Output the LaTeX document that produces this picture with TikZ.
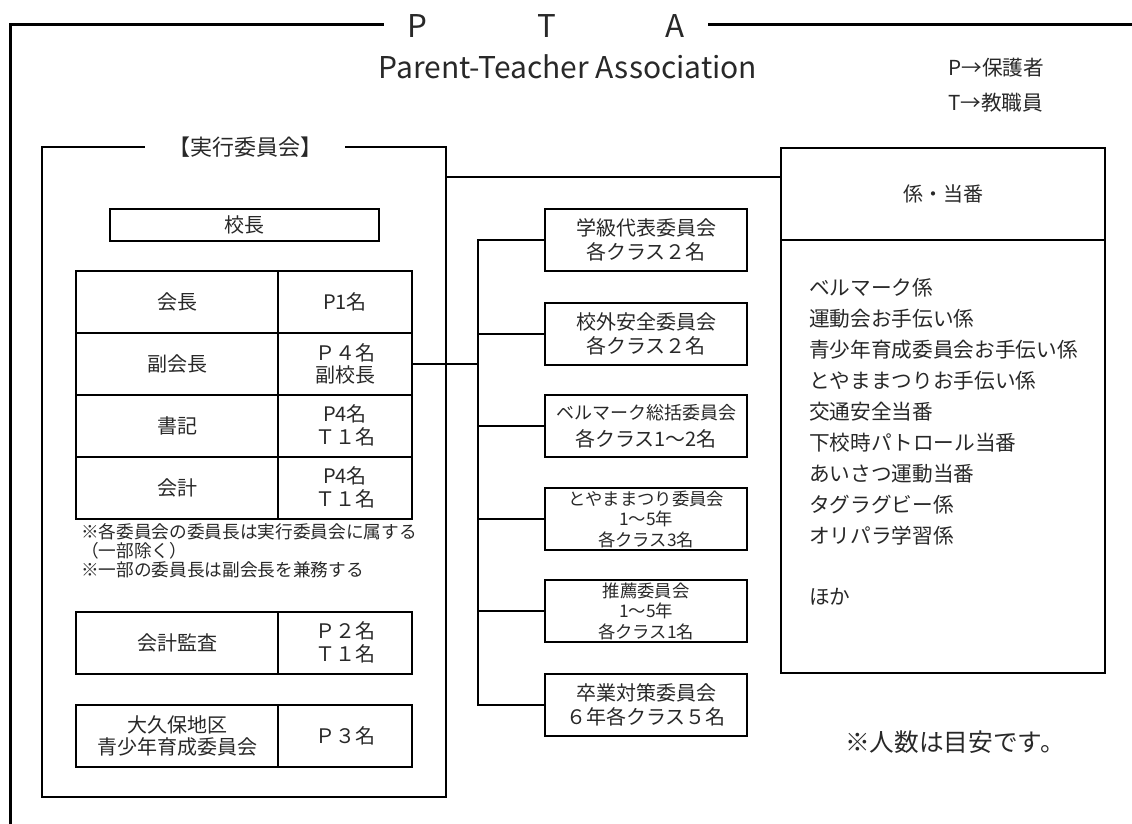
\documentclass[tikz,border=0pt]{standalone}
\usepackage{fontspec}
\setmainfont{Noto Sans CJK JP}

\begin{document}
\begin{tikzpicture}[x=0.75pt,y=-0.75pt,
  cell/.style={draw,line width=1.5pt,inner sep=0pt,align=center,text=ink,
    font=\fontsize{15}{17}\selectfont},
  iin/.style={cell,minimum width=202*\px,minimum height=62*\px,
    font=\fontsize{15}{18}\selectfont},
  small/.style={font=\fontsize{13}{15.4}\selectfont},
  txt/.style={text=ink,inner sep=0pt}]

\def\px{0.75pt}
\def\lw{1.5pt}
\definecolor{ink}{RGB}{40,40,40}

\useasboundingbox (0,0) rectangle (1132,824);

%% outer frame
\draw[line width=2.25pt] (1132,25) -- (10,25) -- (10,824);
\node[fill=white,inner xsep=18pt,inner ysep=3pt,text=ink,
  font=\fontsize{23.5}{23.5}\selectfont] (pta) at (546,26) {P\hspace{82pt}T\hspace{82pt}A};
\node[txt,font=\fontsize{22.5}{22.5}\selectfont] (pta-en) at (568,67) {Parent-Teacher Association};
\node[txt,anchor=west,font=\fontsize{15.5}{15.5}\selectfont] (hogosha) at (948,68) {P→保護者};
\node[txt,anchor=west,font=\fontsize{15.5}{15.5}\selectfont] (kyoshoku) at (948,103) {T→教職員};

%% executive committee
\node[draw,line width=\lw,minimum width=404*\px,minimum height=650*\px] (exec) at (244,472) {};
\node[fill=white,minimum width=200*\px,inner sep=2pt,text=ink,
  font=\fontsize{16.5}{16.5}\selectfont] (exec-title) at (245,147) {【実行委員会】};

\node[cell,minimum width=269*\px,minimum height=32*\px] (kocho) at (244.5,225) {校長};

\foreach \role/\num/\yc [count=\i] in {会長/P1名/302, 副会長/{Ｐ４名\\副校長}/364,
    書記/{P4名\\Ｔ１名}/425.5, 会計/{P4名\\Ｔ１名}/487.5,
    会計監査/{Ｐ２名\\Ｔ１名}/642.5, {大久保地区\\青少年育成委員会}/Ｐ３名/736}{
  \node[cell,minimum width=202*\px,minimum height=62*\px] (role\i) at (177,\yc) {\role};
  \node[cell,minimum width=134*\px,minimum height=62*\px] (num\i) at (345,\yc) {\num};
}

\node[txt,anchor=west,align=left,font=\fontsize{13.25}{14.25}\selectfont] (notes) at (81,551)
  {※各委員会の委員長は実行委員会に属する\\（一部除く）\\※一部の委員長は副会長を兼務する};

%% committees
\node[iin] (iin1) at (646,240) {学級代表委員会\\各クラス２名};
\node[iin] (iin2) at (646,333.5) {校外安全委員会\\各クラス２名};
\node[iin,font=\fontsize{15}{20}\selectfont] (iin3) at (646,426)
  {{\fontsize{13.5}{20}\selectfont ベルマーク総括委員会}\\各クラス1～2名};
\node[iin,small] (iin4) at (646,519) {とやままつり委員会\\1～5年\\各クラス3名};
\node[iin,small] (iin5) at (646,611) {推薦委員会\\1～5年\\各クラス1名};
\node[iin] (iin6) at (646,704.5) {卒業対策委員会\\６年各クラス５名};

\coordinate (bus) at (478,364);
\draw[line width=\lw] (num2.east) -- (bus);
\draw[line width=\lw] (iin1.west) -- (bus |- iin1.west) -- (bus |- iin6.west) -- (iin6.west);
\foreach \i in {2,...,5}{
  \draw[line width=\lw] (bus |- iin\i.west) -- (iin\i.west);
}

%% kakari / toban
\node[cell,minimum width=324*\px,minimum height=92*\px] (kakari) at (943,194) {係・当番};
\node[cell,minimum width=324*\px,minimum height=433*\px] (kakari-list) at (943,456.5) {};

\coordinate (link) at (446,177);
\draw[line width=\lw] (exec.east |- link) -- (kakari.west |- link);

\foreach \duty [count=\i] in {ベルマーク係,運動会お手伝い係,青少年育成委員会お手伝い係,
    とやままつりお手伝い係,交通安全当番,下校時パトロール当番,あいさつ運動当番,
    タグラグビー係,オリパラ学習係}{
  \node[txt,anchor=west,font=\fontsize{15.5}{15.5}\selectfont] (duty\i) at (809,{257+31*\i}) {\duty};
}
\node[txt,anchor=west,font=\fontsize{15.5}{15.5}\selectfont] (hoka) at (809,597) {ほか};

\node[txt,font=\fontsize{18.5}{18.5}\selectfont] (ninzu) at (955,742) {※人数は目安です。};

\end{tikzpicture}
\end{document}
